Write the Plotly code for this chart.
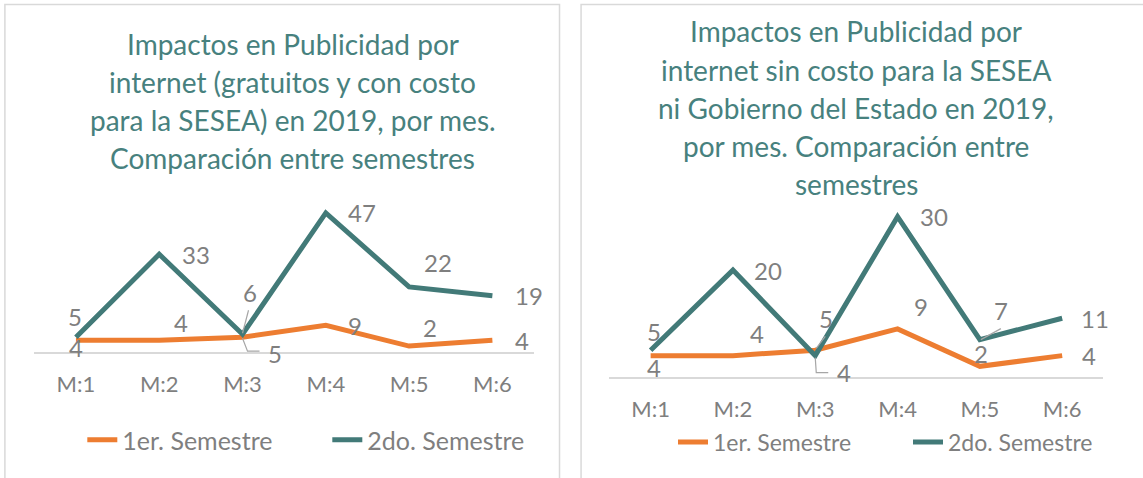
import plotly.graph_objects as go

# data
meses = ["M:1", "M:2", "M:3", "M:4", "M:5", "M:6"]
series = ["1er. Semestre", "2do. Semestre"]

# chart 1: gratuitos y con costo
sem1_total = [4, 4, 5, 9, 2, 4]
sem2_total = [5, 33, 6, 47, 22, 19]

# chart 2: sin costo
sem1_sincosto = [4, 4, 5, 9, 2, 4]
sem2_sincosto = [5, 20, 4, 30, 7, 11]

titulo1 = ["Impactos en Publicidad por",
           "internet (gratuitos y con costo",
           "para la SESEA) en 2019, por mes.",
           "Comparación entre semestres"]
titulo2 = ["Impactos en Publicidad por",
           "internet sin costo para la SESEA",
           "ni Gobierno del Estado en 2019,",
           "por mes. Comparación entre",
           "semestres"]

W, H = 1143, 478
FONT = "Lato"
ORANGE = "#ed7d31"
TEAL = "#427a78"
TITLE_C = "#47817e"
GRAY = "#7f7f7f"
LIGHT = "#d9d9d9"


def fx(p):
    return p / W


def fy(p):
    return 1 - p / H


idx = list(range(len(meses)))

fig = go.Figure()

panels = [
    dict(ax="", s1=sem1_total, s2=sem2_total, legend="legend"),
    dict(ax="2", s1=sem1_sincosto, s2=sem2_sincosto, legend="legend2"),
]
for p in panels:
    fig.add_trace(go.Scatter(x=idx, y=p["s1"], name=series[0], mode="lines",
                             line=dict(color=ORANGE, width=5),
                             xaxis="x" + p["ax"], yaxis="y" + p["ax"],
                             legend=p["legend"], hoverinfo="skip"))
    fig.add_trace(go.Scatter(x=idx, y=p["s2"], name=series[1], mode="lines",
                             line=dict(color=TEAL, width=5),
                             xaxis="x" + p["ax"], yaxis="y" + p["ax"],
                             legend=p["legend"], hoverinfo="skip"))

# label offsets (px) per point, as Excel placed them
shift1_a = [(0, -7), (22, 18), (32, -16), (29, 0), (21, 19), (30, 0)]
shift1_b = [(-1, 21), (37, 0), (7, 42), (36, 0), (29, 24), (37, 0)]
shift2_a = [(3, -12), (24, 22), (11, 32), (23, 22), (1, 13), (27, 0)]
shift2_b = [(3, 19), (35, 0), (29, -17), (36, 0), (21, 29), (33, 0)]

annotations = []
for p, sa, sb in [(panels[0], shift1_a, shift1_b), (panels[1], shift2_a, shift2_b)]:
    for vals, shifts in [(p["s1"], sa), (p["s2"], sb)]:
        for i, v in enumerate(vals):
            annotations.append(dict(
                x=i, y=v, xref="x" + p["ax"], yref="y" + p["ax"],
                text=str(v), showarrow=False, xanchor="center", yanchor="middle",
                xshift=shifts[i][0], yshift=shifts[i][1],
                font=dict(family=FONT, size=24, color=GRAY)))

# titles, one annotation per line
for lines, cx, ys in [(titulo1, 299, [44, 82, 120, 158]),
                      (titulo2, 874, [31, 70, 108, 146, 184])]:
    for t, yy in zip(lines, ys):
        annotations.append(dict(
            x=fx(cx), y=fy(yy), xref="paper", yref="paper", text=t,
            showarrow=False, xanchor="center", yanchor="middle",
            font=dict(family=FONT, size=28, color=TITLE_C)))

# leader lines (pixel offsets from the point)
leaders = [
    ("", 2, sem2_total[2], [(6, 24), (0, 1)]),
    ("", 2, sem1_total[2], [(0, -1), (5, -14), (17, -14)]),
    ("2", 2, sem1_sincosto[2], [(10, 14), (1, 2)]),
    ("2", 2, sem2_sincosto[2], [(0, -2), (1, -17), (13, -17)]),
    ("2", 4, sem2_sincosto[4], [(21, 11), (1, 0)]),
]
shapes = []
for ax, i, v, pts in leaders:
    path = "M" + " L".join(f"{a},{b}" for a, b in pts)
    shapes.append(dict(type="path", xref="x" + ax, yref="y" + ax,
                       xsizemode="pixel", ysizemode="pixel",
                       xanchor=i, yanchor=v, path=path,
                       line=dict(color="#a6a6a6", width=1.2)))

# chart frames
shapes.append(dict(type="rect", xref="paper", yref="paper",
                   x0=fx(5), x1=fx(571), y0=-0.2, y1=fy(4.5),
                   line=dict(color=LIGHT, width=1.5)))
shapes.append(dict(type="rect", xref="paper", yref="paper",
                   x0=fx(593), x1=1.2, y0=-0.2, y1=fy(4.5),
                   line=dict(color=LIGHT, width=1.5)))

xcommon = dict(tickvals=idx, ticktext=meses, range=[-0.5, 5.5],
               showgrid=False, zeroline=False, showline=True,
               linecolor=LIGHT, linewidth=1.5, ticks="",
               ticklabelstandoff=12, fixedrange=True,
               tickfont=dict(family=FONT, size=22, color=GRAY))
ycommon = dict(visible=False, showgrid=False, zeroline=False, fixedrange=True)

fig.update_layout(
    width=W, height=H,
    margin=dict(l=0, r=0, t=0, b=0),
    paper_bgcolor="white", plot_bgcolor="white",
    font=dict(family=FONT, color=GRAY),
    xaxis=dict(xcommon, domain=[fx(35), fx(545)], anchor="y"),
    yaxis=dict(ycommon, domain=[fy(352), fy(204)], range=[0, 50], anchor="x"),
    xaxis2=dict(xcommon, domain=[fx(622), fx(1126)], anchor="y2"),
    yaxis2=dict(ycommon, domain=[fy(377), fy(190)], range=[0, 35], anchor="x2"),
    legend=dict(orientation="h", x=fx(84), y=fy(440), xanchor="left", yanchor="middle",
                font=dict(family=FONT, size=25, color=GRAY), entrywidth=200,
                bgcolor="rgba(0,0,0,0)"),
    legend2=dict(orientation="h", x=fx(687), y=fy(442), xanchor="left", yanchor="middle",
                 font=dict(family=FONT, size=23, color=GRAY), entrywidth=190,
                 bgcolor="rgba(0,0,0,0)"),
    annotations=annotations,
    shapes=shapes,
    showlegend=True,
)

# drop the default 8px body margin so the figure fills the window
fig.write_html("out.html", config={"displayModeBar": False},
               post_script="document.body.style.margin = '0';")
